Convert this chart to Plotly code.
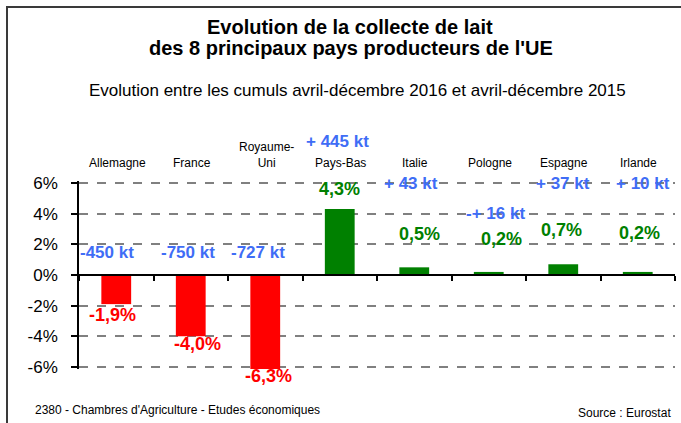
import plotly.graph_objects as go

# ---- data ----
countries = ["Allemagne", "France", "Royaume-<br>Uni", "Pays-Bas", "Italie", "Pologne", "Espagne", "Irlande"]
evolution_pct = [-1.9, -4.0, -6.3, 4.3, 0.5, 0.2, 0.7, 0.2]
volume_labels = ["-450 kt", "-750 kt", "-727 kt", "+ 445 kt", "+ 43 kt", "-+ 16 kt", "+ 37 kt", "+ 10 kt"]
y_tick_vals = [-6, -4, -2, 0, 2, 4, 6]
y_tick_text = ["-6%", "-4%", "-2%", "0%", "2%", "4%", "6%"]

# ---- label placement (layout, in axis units) ----
kt_label_x = [0.87, 1.96, 2.90, 3.97, 4.95, 6.09, 6.99, 8.07]
kt_label_y = [1.45, 1.45, 1.45, 8.7, 6.0, 4.0, 6.0, 6.0]
pct_label_x = [0.95, 2.09, 3.04, 3.99, 5.07, 6.17, 6.97, 8.03]
pct_label_y = [-2.62, -4.48, -6.6, 5.63, 2.69, 2.36, 2.96, 2.76]

W, H = 681, 423
PAD = 2  # px of headroom so the 6% / -6% gridlines get drawn
L, R, T, B = 79, 6, 183 - PAD, 56 - PAD
PW, PH = W - L - R, H - T - B
UNIT = (367 - 183) / 12.0
Y_MIN, Y_MAX = -6 - PAD / UNIT, 6 + PAD / UNIT


def px(x):
    return (x - L) / PW


def py(y):
    return (H - B - y) / PH


def dy(v):
    return (v - Y_MIN) / (Y_MAX - Y_MIN)


RED = "#FF0000"
GREEN = "#008000"
BLUE = "#3F6DF6"
SANS = "Liberation Sans, Arial"

positions = list(range(1, len(countries) + 1))
colors = [RED if v < 0 else GREEN for v in evolution_pct]

fig = go.Figure()
fig.add_trace(go.Bar(
    x=positions, y=evolution_pct, width=0.4,
    marker=dict(color=colors, line=dict(width=0)),
    hoverinfo="skip", showlegend=False,
))

ann = []
for i, name in enumerate(countries):
    ann.append(dict(x=positions[i], y=py(171.5), xref="x", yref="paper", text=name,
                    showarrow=False, xanchor="center", yanchor="bottom", xshift=1,
                    font=dict(family=SANS, size=12, color="#000000")))
for i, t in enumerate(volume_labels):
    ann.append(dict(x=kt_label_x[i], y=dy(kt_label_y[i]), xref="x", yref="paper", text="<b>%s</b>" % t,
                    showarrow=False, xanchor="center", yanchor="middle",
                    font=dict(family=SANS, size=17, color=BLUE)))
for i, v in enumerate(evolution_pct):
    ann.append(dict(x=pct_label_x[i], y=dy(pct_label_y[i]), xref="x", yref="paper",
                    text="<b>%s%%</b>" % ("%.1f" % v).replace(".", ","),
                    showarrow=False, xanchor="center", yanchor="middle",
                    font=dict(family=SANS, size=18, color=colors[i])))


def txt(x, y, text, size, xanchor="center", bold=False):
    return dict(x=px(x), y=py(y), xref="paper", yref="paper",
                text="<b>%s</b>" % text if bold else text,
                showarrow=False, xanchor=xanchor, yanchor="middle",
                font=dict(family=SANS, size=size, color="#000000"))


ann += [
    txt(350, 27, "Evolution de la collecte de lait", 20, bold=True),
    txt(351, 48, "des 8 principaux pays producteurs de l'UE", 20, bold=True),
    txt(357, 91, "Evolution entre les cumuls avril-décembre 2016 et avril-décembre 2015", 17),
    txt(33, 410, "2380 - Chambres d'Agriculture - Etudes économiques", 12, xanchor="left"),
    txt(673, 413, "Source : Eurostat", 12, xanchor="right"),
]

fig.update_layout(
    width=W, height=H,
    margin=dict(l=L, r=R, t=T, b=B, pad=0),
    paper_bgcolor="white", plot_bgcolor="white",
    annotations=ann,
    shapes=[dict(type="rect", xref="paper", yref="paper",
                 x0=px(7), x1=px(720), y0=py(7), y1=py(460),
                 line=dict(color="#3a3a3a", width=2), layer="above")],
    xaxis=dict(range=[0.5, len(countries) + 0.5], anchor="free", position=dy(0),
               showline=True, linecolor="#000000", linewidth=1.5,
               ticks="outside", ticklen=5, tickcolor="#000000", tickwidth=1.5,
               tickvals=[p - 0.5 for p in positions] + [len(countries) + 0.5],
               showticklabels=False, showgrid=False, zeroline=False, fixedrange=True),
    yaxis=dict(range=[Y_MIN, Y_MAX], tickvals=y_tick_vals, ticktext=y_tick_text,
               showline=True, linecolor="#000000", linewidth=1.5,
               ticks="outside", ticklen=6, tickcolor="#000000", tickwidth=1.5,
               ticklabelstandoff=10,
               showgrid=True, gridcolor="#808080", gridwidth=1.5, griddash="dash",
               zeroline=False,
               tickfont=dict(family=SANS, size=17, color="#000000"), fixedrange=True),
)

fig.write_html("out.html", config={"displayModeBar": False},
               post_script="document.body.style.margin='0';document.body.style.overflow='hidden';")
